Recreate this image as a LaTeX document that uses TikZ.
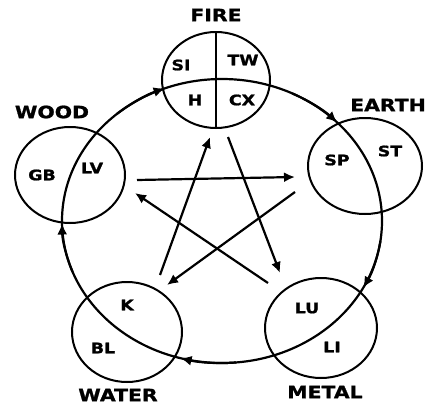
\documentclass[tikz,border=0pt]{standalone}
\usepackage{fontspec}
\newfontfamily\lblfont[FakeStretch=1.2,BoldFeatures={FakeBold=1.2}]{DejaVu Sans}
\usetikzlibrary{arrows.meta,shapes.geometric}
\begin{document}
\begin{tikzpicture}[x=1pt,y=-1pt,
  line width=2.2pt,
  elem/.style={draw, ellipse, line width=2pt, inner sep=0pt},
  outer/.style={inner sep=0pt, font=\lblfont\bfseries\fontsize{17}{17}\selectfont},
  organ/.style={inner sep=0pt, font=\lblfont\bfseries\fontsize{14.5}{14.5}\selectfont},
  tip/.style={-{Latex[length=11pt,width=10pt]}}
]
\useasboundingbox (0,0) rectangle (429,407);
\fill[white] (0,0) rectangle (429,407);

% element circles
\node[elem, minimum width=108pt, minimum height=96pt] (fire)  at (216,80) {};
\node[elem, minimum width=110pt, minimum height=96pt] (wood)  at (70,175) {};
\node[elem, minimum width=114pt, minimum height=96pt] (earth) at (365,166) {};
\node[elem, minimum width=110pt, minimum height=100pt] (water) at (127,332) {};
\node[elem, minimum width=112pt, minimum height=100pt] (metal) at (321,328) {};

% fire vertical divider
\draw[line width=2pt] (fire.north) -- (fire.south);

% big cycle
\coordinate (O) at (222,221);
\draw (O) ellipse [x radius=160, y radius=142];
\foreach \t in {249,316,388,105,179}{
  \draw[tip] (O) ++({\t-20}:160 and 142) arc[start angle={\t-20}, end angle=\t, x radius=160, y radius=142];
}

% star arrows
\coordinate (s1a) at (137,180); \coordinate (s1b) at (295,177);
\coordinate (s2a) at (295,192); \coordinate (s2b) at (167,285);
\coordinate (s3a) at (268,283); \coordinate (s3b) at (135,193);
\coordinate (s4a) at (160,275); \coordinate (s4b) at (210,137);
\coordinate (s5a) at (228,137); \coordinate (s5b) at (280,273);
\draw[tip] (s1a) -- (s1b);
\draw[tip] (s2a) -- (s2b);
\draw[tip] (s3a) -- (s3b);
\draw[tip] (s4a) -- (s4b);
\draw[tip] (s5a) -- (s5b);

% element names
\node[outer] (tfire)  at (216,15)  {FIRE};
\node[outer] (twood)  at (52,112)  {WOOD};
\node[outer] (tearth) at (388,105) {EARTH};
\node[outer] (twater) at (118,395) {WATER};
\node[outer] (tmetal) at (325,392) {METAL};

% organ labels
\node[organ] (si) at (181,65)  {SI};
\node[organ] (tw) at (243,60)  {TW};
\node[organ] (h)  at (195,100) {H};
\node[organ] (cx) at (242,100) {CX};
\node[organ] (gb) at (42,175)  {GB};
\node[organ] (lv) at (92,168)  {LV};
\node[organ] (sp) at (337,160) {SP};
\node[organ] (st) at (390,151) {ST};
\node[organ] (k)  at (127,305) {K};
\node[organ] (bl) at (103,348) {BL};
\node[organ] (lu) at (307,308) {LU};
\node[organ] (li) at (332,347) {LI};
\end{tikzpicture}
\end{document}
